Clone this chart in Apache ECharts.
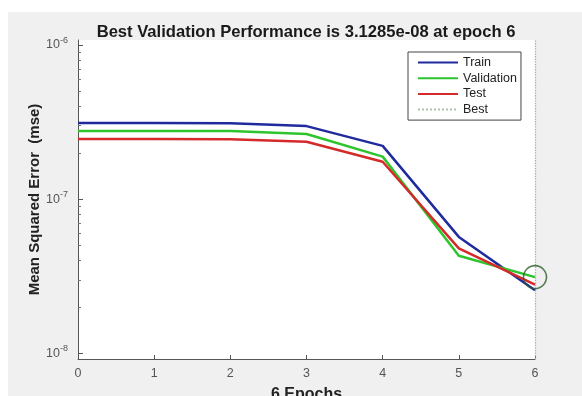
<!DOCTYPE html>
<html>
<head>
<meta charset="utf-8">
<script src="https://cdn.jsdelivr.net/npm/echarts@6/dist/echarts.min.js"></script>
<style>
html, body { margin: 0; padding: 0; background: #fff; }
#chart { width: 582px; height: 396px; }
</style>
</head>
<body>
<div id="chart"></div>
<script>
// epochs and performance values
const epochs = [0, 1, 2, 3, 4, 5, 6];
const trainPerf = [3.12e-7, 3.12e-7, 3.11e-7, 2.98e-7, 2.22e-7, 5.7e-8, 2.57e-8];
const valPerf = [2.77e-7, 2.77e-7, 2.77e-7, 2.65e-7, 1.89e-7, 4.3e-8, 3.1285e-8];
const testPerf = [2.46e-7, 2.46e-7, 2.45e-7, 2.36e-7, 1.75e-7, 4.8e-8, 2.8e-8];
const bestEpoch = 6;
const bestPerf = 3.1285e-8;
const yMajorTicks = [1e-8, 1e-7, 1e-6];
const yMinorTicks = [2e-8, 3e-8, 4e-8, 5e-8, 6e-8, 7e-8, 8e-8, 9e-8,
                     2e-7, 3e-7, 4e-7, 5e-7, 6e-7, 7e-7, 8e-7, 9e-7];

const pairs = arr => epochs.map((e, i) => [e, arr[i]]);
const font = 'Liberation Sans, Arial, sans-serif';

const chart = echarts.init(document.getElementById('chart'));
chart.setOption({
    animation: false,
    backgroundColor: '#fff',
    textStyle: { fontFamily: font },
    graphic: [{
        type: 'rect',
        shape: { x: 8, y: 12, width: 574, height: 384 },
        style: { fill: '#f0f0f0' },
        z: -10, silent: true
    }],
    title: {
        text: 'Best Validation Performance is 3.1285e-08 at epoch 6',
        left: 301, top: 19, textAlign: 'center',
        textStyle: { fontSize: 16.6, fontWeight: 'bold', color: '#1a1a1a', fontFamily: font }
    },
    grid: {
        left: 78, right: 47, top: 40, bottom: 37,
        outerBoundsMode: 'none', containLabel: false,
        show: true, backgroundColor: '#fff', borderWidth: 0
    },
    legend: {
        orient: 'vertical',
        left: 408, top: 52,
        itemWidth: 40, itemHeight: 12, itemGap: 2.7,
        padding: [4, 4, 4, 9],
        borderColor: '#444', borderWidth: 1, borderRadius: 0,
        backgroundColor: '#fff',
        itemStyle: { opacity: 0 },
        textStyle: { fontSize: 12.5, color: '#222' },
        data: ['Train', 'Validation', 'Test', 'Best']
    },
    xAxis: {
        type: 'value', min: 0, max: 6, interval: 1,
        name: '6 Epochs', nameLocation: 'middle', nameGap: 28,
        nameTextStyle: { fontSize: 16, fontWeight: 'bold', color: '#222' },
        axisLine: { lineStyle: { color: '#555' } },
        axisTick: { inside: true, length: 4, lineStyle: { color: '#555' } },
        axisLabel: { fontSize: 12.5, color: '#555', margin: 8 },
        splitLine: { show: false }
    },
    yAxis: [{
        type: 'log', logBase: 10, min: 9.21e-9, max: 1.078e-6,
        name: 'Mean Squared Error  (mse)', nameLocation: 'middle', nameGap: 36,
        nameMoveOverlap: false,
        nameTextStyle: { fontSize: 15, fontWeight: 'bold', color: '#222' },
        axisLine: { show: true, lineStyle: { color: '#555' } },
        axisTick: { inside: true, length: 5, customValues: yMajorTicks, lineStyle: { color: '#555' } },
        axisLabel: {
            customValues: yMajorTicks,
            fontSize: 12.5, color: '#555', margin: 10,
            formatter: v => '10{sup|' + Math.round(Math.log10(v)) + '}',
            rich: { sup: { fontSize: 9, color: '#555', verticalAlign: 'bottom', padding: [0, 0, 9, 0] } }
        },
        splitLine: { show: false }
    }, {
        type: 'log', logBase: 10, min: 9.21e-9, max: 1.078e-6,
        position: 'left', offset: 0,
        axisLine: { show: false },
        axisTick: { inside: true, length: 3, customValues: yMinorTicks, lineStyle: { color: '#777' } },
        axisLabel: { show: false },
        splitLine: { show: false }
    }],
    series: [{
        name: 'Train', type: 'line', data: pairs(trainPerf),
        symbol: 'none', color: '#1f2a9c',
        lineStyle: { width: 2.5, color: '#1f2a9c' }, z: 3
    }, {
        name: 'Validation', type: 'line', data: pairs(valPerf),
        symbol: 'none', color: '#2ec42e',
        lineStyle: { width: 2.5, color: '#2ec42e' }, z: 4
    }, {
        name: 'Test', type: 'line', data: pairs(testPerf),
        symbol: 'none', color: '#d42a2a',
        lineStyle: { width: 2.5, color: '#d42a2a' }, z: 5
    }, {
        name: 'Best', type: 'line', data: [],
        symbol: 'none', color: '#a9c4a9',
        lineStyle: { width: 1.2, type: 'dotted', color: '#a9c4a9' },
        markLine: {
            silent: true, symbol: 'none', label: { show: false },
            lineStyle: { width: 1.3, type: 'dotted', color: '#a3b3a8' },
            data: [{ yAxis: bestPerf }, { xAxis: bestEpoch }]
        }, z: 2
    }, {
        name: 'BestPoint', type: 'scatter', data: [[bestEpoch, bestPerf]],
        symbol: 'circle', symbolSize: 23,
        itemStyle: { color: 'rgba(0,0,0,0)', borderColor: '#2f5e2f', borderWidth: 1.6 },
        z: 6
    }]
});
</script>
</body>
</html>
